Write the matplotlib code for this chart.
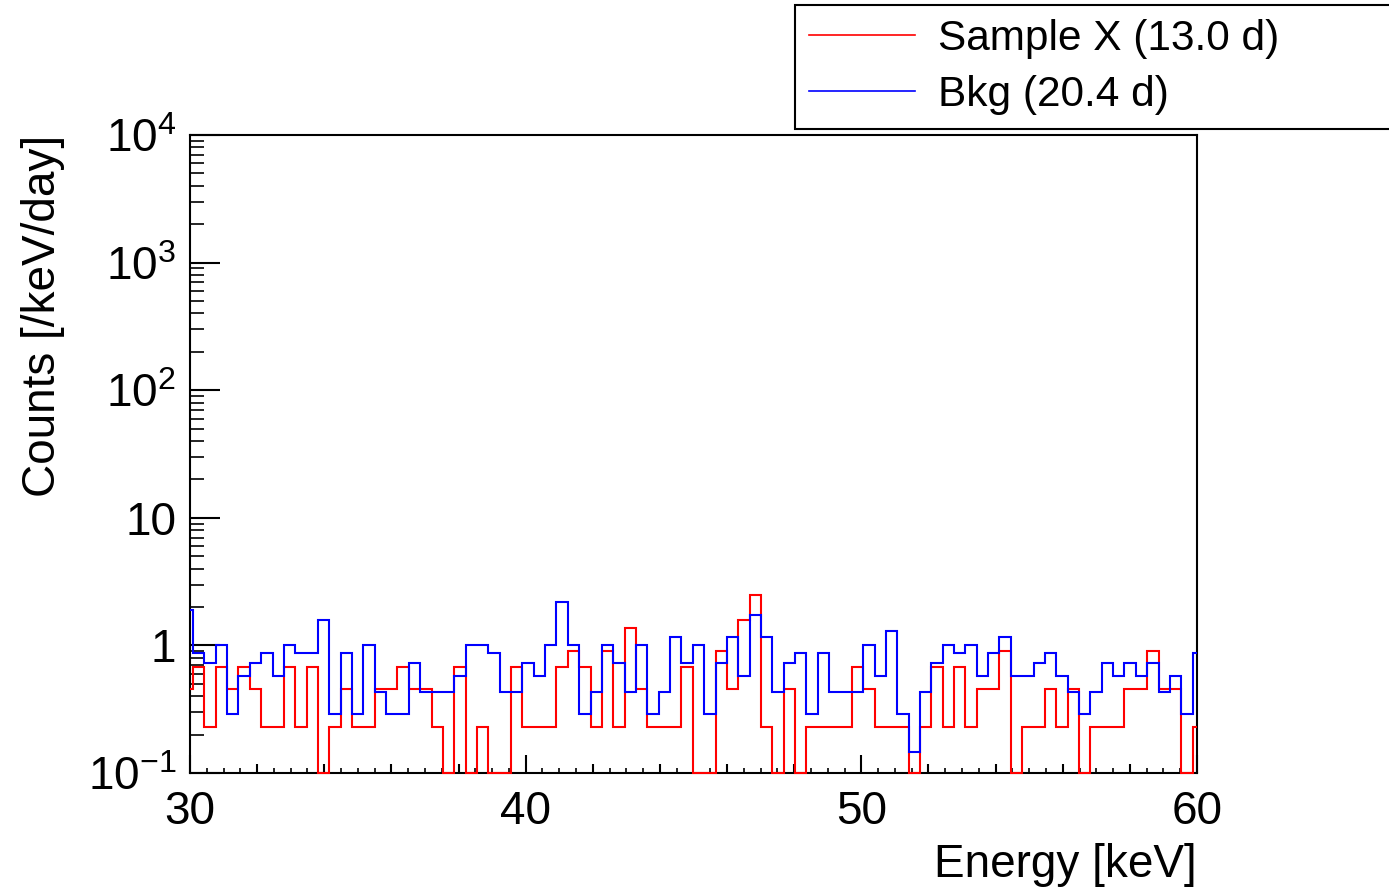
import numpy as np
import matplotlib
matplotlib.use('Agg')
import matplotlib.pyplot as plt

plt.rcParams['font.family'] = ['Liberation Sans', 'DejaVu Sans']
plt.rcParams['mathtext.fontset'] = 'custom'
plt.rcParams['mathtext.rm'] = 'Liberation Sans'
plt.rcParams['mathtext.it'] = 'Liberation Sans:italic'

# binning of the spectra (keV)
bin_lo = 29.751
bin_width = 0.3384
n_bins = 90

# live times in days
live_sample = 13.0
live_bkg = 20.4

# raw counts per bin
sample_counts = [2, 3, 1, 3, 2, 3, 2, 1, 1, 3, 1, 3, 0, 1, 2, 1,
                 1, 2, 2, 3, 2, 2, 1, 0, 3, 0, 1, 0, 0, 3, 1, 1,
                 1, 3, 4, 3, 1, 4, 1, 6, 2, 1, 1, 1, 3, 0,
                 0, 4, 2, 7, 11, 1, 0, 2, 0, 1, 1, 1, 1, 3, 2,
                 1, 1, 1, 0, 1, 3, 1, 3, 1, 2, 2, 4, 0, 1, 1,
                 2, 1, 2, 0, 1, 1, 1, 2, 2, 4, 2, 2, 0, 1]
bkg_counts = [13, 6, 5, 7, 2, 4, 5, 6, 4, 7, 6, 6, 11, 2, 6, 2,
              7, 3, 2, 2, 5, 3, 3, 3, 4, 7, 7, 6, 3, 3, 5, 4,
              7, 15, 7, 2, 3, 7, 5, 3, 7, 2, 3, 8, 5, 7,
              2, 5, 8, 4, 12, 8, 3, 5, 6, 2, 6, 3, 3, 3, 7,
              4, 9, 2, 1, 3, 5, 7, 6, 7, 4, 6, 8, 4, 4, 5,
              6, 4, 3, 2, 3, 5, 4, 5, 4, 5, 3, 4, 2, 6]

xmin, xmax = 30, 60
ymin, ymax = 0.1, 1e4

edges = np.clip(bin_lo + bin_width * np.arange(n_bins + 1), xmin, xmax)


def to_rate(counts, days):
    rate = np.asarray(counts, float) / (days * bin_width)
    # empty bins sit on the bottom of the frame
    return np.where(rate > 0, rate, ymin)


fig = plt.figure(figsize=(13.89, 8.93), dpi=100)
ax = fig.add_axes([190 / 1389, 1 - 773 / 893, 1007 / 1389, 638 / 893])

ax.stairs(to_rate(sample_counts, live_sample), edges, baseline=None,
          color='#ff0000', lw=1.5, clip_on=False, zorder=3,
          label='Sample X (13.0 d)')
ax.stairs(to_rate(bkg_counts, live_bkg), edges, baseline=None,
          color='#0000ff', lw=1.5, clip_on=False, zorder=3,
          label='Bkg (20.4 d)')

ax.set_yscale('log')
ax.set_xlim(xmin, xmax)
ax.set_ylim(ymin, ymax)

for s in ax.spines.values():
    s.set_linewidth(1.5)

# x ticks: labelled every 10, medium every 2, small every 0.5
ax.set_xticks(np.arange(30, 61, 2))
ax.set_xticklabels([str(v) if v % 10 == 0 else '' for v in range(30, 61, 2)])
ax.set_xticks(np.arange(30, 60.01, 0.5), minor=True)
ax.tick_params(axis='x', which='major', direction='in', width=1.5,
               labelsize=33, pad=12, top=False)
ax.tick_params(axis='x', which='minor', direction='in', width=1.2,
               length=3.6, top=False)
for v, t in zip(range(30, 61, 2), ax.xaxis.get_major_ticks()):
    t.tick1line.set_markersize(13 if v % 10 == 0 else 6.5)

ax.set_yticks([0.1, 1, 10, 100, 1000, 10000])
ax.set_yticklabels([r'$10^{-1}$', '1', '10', r'$10^{2}$', r'$10^{3}$', r'$10^{4}$'])
ax.yaxis.set_minor_locator(matplotlib.ticker.LogLocator(base=10, subs=np.arange(2, 10)))
ax.yaxis.set_minor_formatter(matplotlib.ticker.NullFormatter())
ax.tick_params(axis='y', which='major', direction='in', width=1.5,
               length=21.6, labelsize=33, pad=10, right=False)
ax.tick_params(axis='y', which='minor', direction='in', width=1.2,
               length=10, right=False)

ax.set_xlabel('Energy [keV]', fontsize=33, loc='right', labelpad=7)
ax.set_ylabel('Counts [/keV/day]', fontsize=33, loc='top', labelpad=16)

leg = ax.legend(loc='upper left', mode='expand',
                bbox_to_anchor=(795 / 1389, 1 - 125 / 893, 600 / 1389, 120 / 893),
                bbox_transform=fig.transFigure, borderaxespad=0,
                fontsize=30.5, handlelength=2.5, handletextpad=0.55,
                borderpad=0.33, labelspacing=0.37, fancybox=False,
                framealpha=1, edgecolor='black')
leg.get_frame().set_linewidth(1.5)
for h in leg.get_lines() + leg.get_patches():
    h.set_linewidth(1.2)

fig.savefig('out.png', dpi=100)
